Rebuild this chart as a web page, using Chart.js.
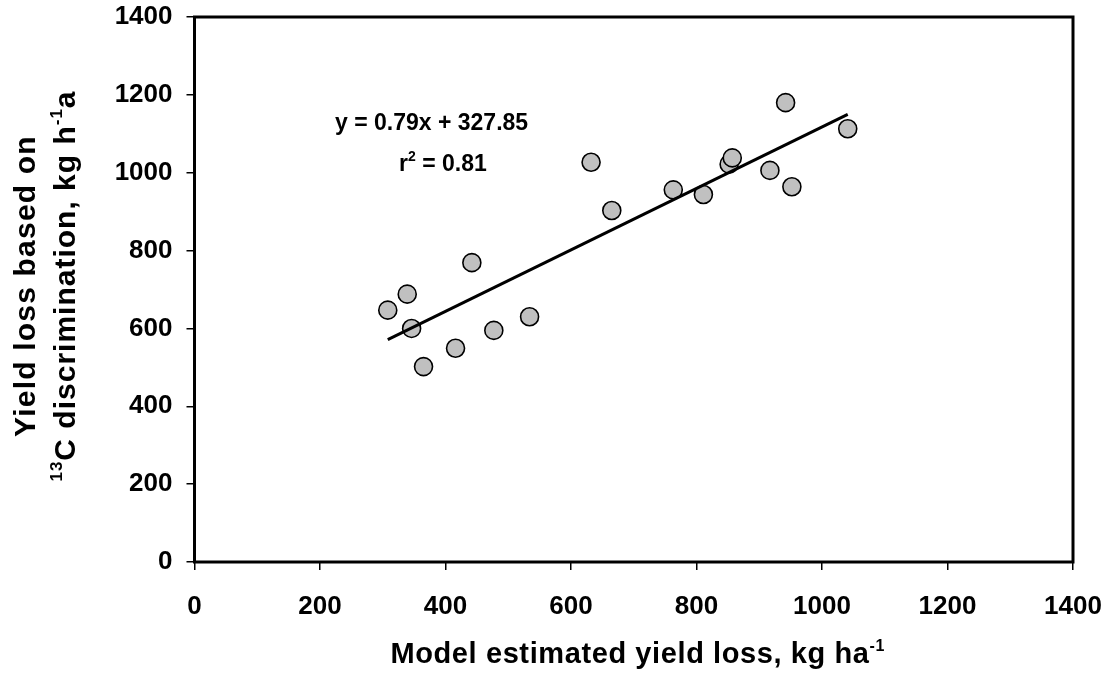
<!DOCTYPE html>
<html>
<head>
<meta charset="utf-8">
<script src="https://cdn.jsdelivr.net/npm/chart.js@4"></script>
<style>
html,body{margin:0;padding:0;background:#fff;}
#wrap{width:1109px;height:677px;}
</style>
</head>
<body>
<div id="wrap"><canvas id="c" width="1109" height="677"></canvas></div>
<script>
// ---- data ----
const modelYieldLoss = [308, 339, 346, 365, 416, 442, 477, 534, 632, 665, 763, 811, 852, 857, 917, 942, 952, 1041];
const c13YieldLoss   = [647, 688, 600, 502, 549, 769, 595, 630, 1027, 903, 956, 944, 1022, 1038, 1006, 1180, 964, 1113];
const trendX = [308, 1041];
const trendY = [571, 1150];
const xTicks = [0, 200, 400, 600, 800, 1000, 1200, 1400];
const yTicks = [0, 200, 400, 600, 800, 1000, 1200, 1400];
const equationText = "y = 0.79x + 327.85";
const r2Text = "0.81";

const FONT = '"Liberation Sans", Arial, sans-serif';

function drawRich(ctx, parts, x, y, mainSize, supSize, raise, ls) {
  let cx = x;
  for (const p of parts) {
    ctx.font = 'bold ' + (p.sup ? supSize : mainSize) + 'px ' + FONT;
    ctx.letterSpacing = (ls || 0) + 'px';
    ctx.fillText(p.t, cx, p.sup ? y - raise : y);
    cx += ctx.measureText(p.t).width;
  }
  return cx - x;
}
function richWidth(ctx, parts, mainSize, supSize, ls) {
  let w = 0;
  for (const p of parts) {
    ctx.font = 'bold ' + (p.sup ? supSize : mainSize) + 'px ' + FONT;
    ctx.letterSpacing = (ls || 0) + 'px';
    w += ctx.measureText(p.t).width;
  }
  return w;
}

const decorPlugin = {
  id: 'decor',
  afterDraw(chart) {
    const ctx = chart.ctx;
    const a = chart.chartArea;
    ctx.save();
    ctx.strokeStyle = '#000';
    ctx.lineWidth = 3;
    ctx.strokeRect(a.left, a.top, a.right - a.left, a.bottom - a.top);
    ctx.fillStyle = '#000';
    ctx.textAlign = 'left';
    ctx.textBaseline = 'alphabetic';

    drawRich(ctx, [{t: equationText}], 335, 130, 23, 14, 10, 0);
    drawRich(ctx, [{t: 'r'}, {t: '2', sup: true}, {t: ' = ' + r2Text}], 399, 171, 23, 14, 10, 0);

    const xParts = [{t: 'Model estimated yield loss, kg ha'}, {t: '-1', sup: true}];
    const xw = richWidth(ctx, xParts, 29, 16, 0.6);
    drawRich(ctx, xParts, (a.left + a.right) / 2 + 4 - xw / 2, 663, 29, 16, 12.5, 0.6);

    const cy = 286;
    const l1 = [{t: 'Yield loss based on'}];
    const l2 = [{t: '13', sup: true}, {t: 'C discrimination, kg h'}, {t: '-1', sup: true}, {t: 'a'}];
    ctx.save();
    ctx.translate(35, cy);
    ctx.rotate(-Math.PI / 2);
    let w1 = richWidth(ctx, l1, 30, 17, 1.2);
    drawRich(ctx, l1, -w1 / 2, 0, 30, 17, 13, 1.2);
    ctx.restore();
    ctx.save();
    ctx.translate(75, cy);
    ctx.rotate(-Math.PI / 2);
    let w2 = richWidth(ctx, l2, 30, 17, 1.0);
    drawRich(ctx, l2, -w2 / 2, 0, 30, 17, 13, 1.0);
    ctx.restore();
    ctx.restore();
  }
};

const scatterData = modelYieldLoss.map((x, i) => ({x: x, y: c13YieldLoss[i]}));
const trendData = trendX.map((x, i) => ({x: x, y: trendY[i]}));

function noOverflow(s) {
  s.paddingLeft = 0; s.paddingRight = 0; s.paddingTop = 0; s.paddingBottom = 0;
}

new Chart(document.getElementById('c'), {
  type: 'scatter',
  data: {
    datasets: [
      {
        label: 'trend',
        data: trendData,
        showLine: true,
        borderColor: '#000',
        borderWidth: 3,
        pointRadius: 0,
        fill: false,
        order: 0
      },
      {
        label: 'obs',
        data: scatterData,
        pointRadius: 9,
        pointHoverRadius: 9,
        backgroundColor: '#c0c0c0',
        borderColor: '#000',
        borderWidth: 1.6,
        order: 1
      }
    ]
  },
  options: {
    responsive: false,
    animation: false,
    devicePixelRatio: 1,
    layout: { autoPadding: false, padding: { top: 17, right: 36, left: 0, bottom: 0 } },
    plugins: { legend: { display: false }, tooltip: { enabled: false } },
    scales: {
      x: {
        type: 'linear',
        min: 0, max: 1400,
        afterBuildTicks(s) { s.ticks = xTicks.map(v => ({value: v})); },
        afterFit(s) { s.height = 115; noOverflow(s); },
        border: { display: false },
        grid: { display: true, drawOnChartArea: false, drawTicks: true, tickLength: 8, color: '#000', lineWidth: 1.5 },
        ticks: { color: '#000', padding: 21, maxRotation: 0, autoSkip: false,
                 callback: v => String(v),
                 font: { family: FONT, size: 26, weight: 'bold' } }
      },
      y: {
        type: 'linear',
        min: 0, max: 1400,
        afterBuildTicks(s) { s.ticks = yTicks.map(v => ({value: v})); },
        afterFit(s) { s.width = 194.5; noOverflow(s); },
        border: { display: false },
        grid: { display: true, drawOnChartArea: false, drawTicks: true, tickLength: 8, color: '#000', lineWidth: 1.5 },
        ticks: { color: '#000', padding: 14, autoSkip: false,
                 callback: v => String(v),
                 font: { family: FONT, size: 26, weight: 'bold' } }
      }
    }
  },
  plugins: [decorPlugin]
});
</script>
</body>
</html>
